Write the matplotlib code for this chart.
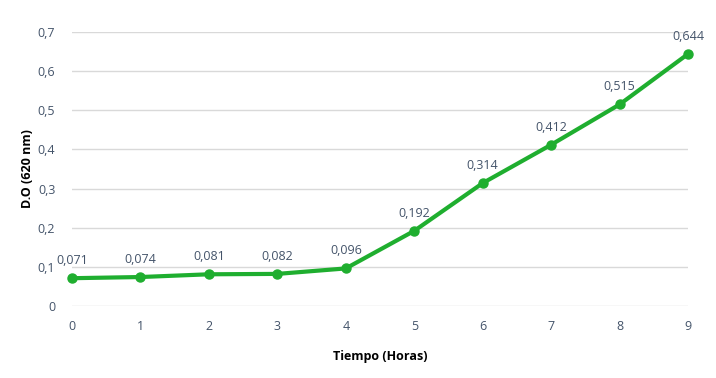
import matplotlib.pyplot as plt
from matplotlib.ticker import FuncFormatter

horas = [0, 1, 2, 3, 4, 5, 6, 7, 8, 9]
densidad = [0.071, 0.074, 0.081, 0.082, 0.096, 0.192, 0.314, 0.412, 0.515, 0.644]
y_ticks = [0, 0.1, 0.2, 0.3, 0.4, 0.5, 0.6, 0.7]

plt.rcParams['font.family'] = ['Open Sans', 'DejaVu Sans']
text_color = '#44546a'
green = '#1fae2f'

fig = plt.figure(figsize=(7.16, 3.78), dpi=100)
ax = fig.add_axes([0.1006, 0.1905, 0.8604, 0.7248])

ax.plot(horas, densidad, color=green, linewidth=3, marker='o', markersize=6.5, zorder=3, clip_on=False)
for x, y in zip(horas, densidad):
    ax.annotate(f"{y:.3f}".replace('.', ','), (x, y), xytext=(0, 8), textcoords='offset points',
                ha='center', va='bottom', fontsize=9, color=text_color)

ax.set_xlim(0, 9)
ax.set_ylim(0, 0.7)
ax.set_xticks(horas)
ax.set_yticks(y_ticks)
ax.yaxis.set_major_formatter(FuncFormatter(lambda v, p: "0" if v == 0 else f"{v:.1f}".replace('.', ',')))
ax.grid(axis='y', color='#d9d9d9', linewidth=1)
ax.set_axisbelow(True)
for s in ax.spines.values():
    s.set_visible(False)
ax.tick_params(length=0, colors=text_color, labelsize=9)
ax.tick_params(axis='x', pad=10)
ax.tick_params(axis='y', pad=12)

ax.set_xlabel("Tiempo (Horas)", fontsize=9, fontweight='bold', color='black', labelpad=12)
ax.set_ylabel("D.O (620 nm)", fontsize=9, fontweight='bold', color='black', labelpad=3)

fig.savefig('out.png', dpi=100)
